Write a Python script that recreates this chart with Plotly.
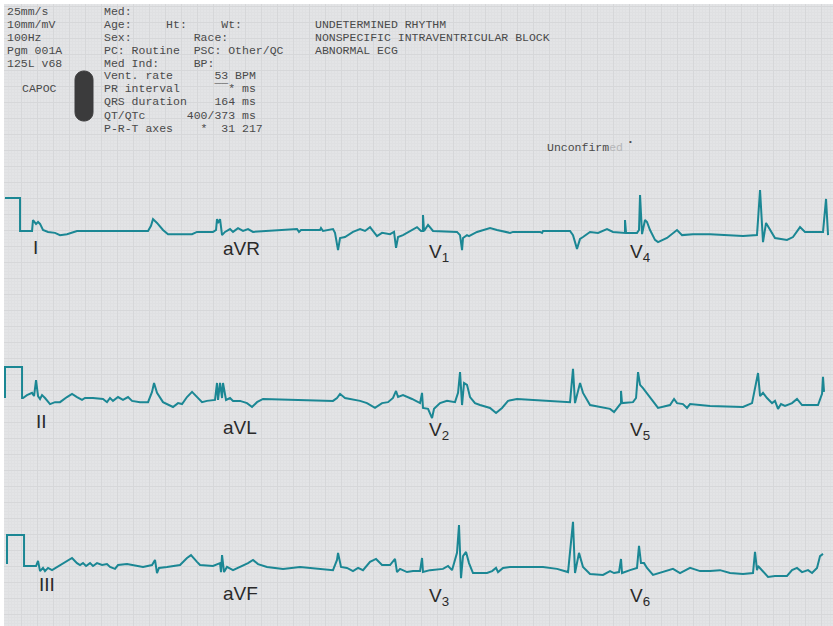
import plotly.graph_objects as go

# ---------------- data: time (s) and amplitude (mV), read from the strip ----------------
ROW1_T = [0, 0.188, 0.188, 0.338, 0.35, 0.388, 0.413, 0.438, 0.475, 0.538, 0.625, 0.688, 0.775, 0.838, 0.9, 1.788, 1.825, 1.85, 1.9, 1.975, 2.038, 2.338, 2.4, 2.6,
          2.638, 2.65, 2.663, 2.688, 2.713, 2.75, 2.813, 2.85, 2.913, 2.975, 3.038, 3.1, 3.275, 3.475, 3.65, 3.675, 3.7, 3.938, 3.95, 3.975, 4.1, 4.125, 4.163, 4.188, 4.25, 4.35, 4.438, 4.5, 4.563, 4.65, 4.713, 4.813, 4.863, 4.888, 4.913, 4.975, 5.088, 5.15,
          5.2, 5.225, 5.225, 5.238, 5.288, 5.35, 5.65, 5.688, 5.713, 5.725, 5.775, 5.8, 5.9, 6.063, 6.15, 6.275, 6.313, 6.35, 6.688, 6.713, 6.725, 7.063, 7.1, 7.15, 7.188, 7.225, 7.313, 7.413, 7.525, 7.6, 7.738,
          7.75, 7.75, 7.763, 7.9, 7.925, 7.938, 7.963, 8.0, 8.025, 8.063, 8.125, 8.163, 8.275, 8.4, 8.463, 8.6, 8.813, 9.225, 9.4, 9.438, 9.475, 9.513, 9.563, 9.625, 9.775, 9.85, 9.938, 10.0, 10.225, 10.263, 10.288]
ROW1_MV = [1.0, 1.0, -0.03, -0.03, 0.31, 0.19, 0.25, 0.19, 0.0, -0.06, -0.09, -0.16, -0.13, -0.09, -0.03, -0.03, 0.13, 0.34, 0.22, 0.0, -0.13, -0.13, -0.06, -0.06,
           0.0, 0.34, 0.22, 0.34, -0.16, -0.06, 0.03, -0.06, 0.06, -0.03, 0.03, -0.06, -0.03, 0.0, 0.03, -0.06, 0.0, 0.0, 0.06, -0.03, 0.03, -0.09, -0.63, -0.25, -0.22, -0.06, 0.03, -0.03, 0.09, -0.19, -0.09, -0.13, -0.06, -0.56, -0.22, -0.16, 0.0, 0.09,
           -0.03, -0.03, 0.47, -0.03, 0.16, -0.03, -0.06, -0.16, -0.63, -0.25, -0.16, -0.19, -0.06, 0.06, 0.0, -0.06, -0.09, -0.06, -0.06, -0.09, -0.03, -0.03, -0.16, -0.59, -0.28, -0.22, -0.06, -0.09, 0.03, -0.06, -0.09,
           -0.09, 0.31, -0.09, -0.09, 0.0, 1.09, -0.13, 0.31, 0.25, 0.0, -0.31, -0.38, -0.25, 0.0, -0.16, -0.13, -0.13, -0.19, -0.16, 1.25, -0.38, 0.22, 0.0, -0.25, -0.31, -0.22, 0.09, -0.06, -0.06, 0.97, -0.16]

ROW2_T = [0, 0, 0.213, 0.213, 0.225, 0.275, 0.338, 0.363, 0.388, 0.413, 0.438, 0.463, 0.5, 0.563, 0.625, 0.688, 0.775, 0.838, 0.9, 0.963, 1.0, 1.1, 1.225, 1.275, 1.313, 1.35, 1.413, 1.475, 1.538, 1.588, 1.688, 1.788, 1.838, 1.863, 1.9, 1.975, 2.1, 2.163, 2.213, 2.275, 2.338, 2.4, 2.463, 2.525, 2.625,
          2.65, 2.663, 2.688, 2.713, 2.725, 2.763, 2.813, 2.85, 2.938, 3.025, 3.088, 3.15, 3.225, 3.688, 4.1, 4.15, 4.188, 4.25, 4.438, 4.525, 4.625, 4.713, 4.788, 4.85, 4.888, 4.913, 4.975, 5.088, 5.188,
          5.213, 5.225, 5.288, 5.338, 5.363, 5.438, 5.525, 5.625, 5.663, 5.688, 5.713, 5.738, 5.775, 5.813, 5.875, 5.938, 6.063, 6.138, 6.213, 6.288, 6.4, 7.063, 7.1, 7.125, 7.188, 7.225, 7.313, 7.563, 7.613, 7.663, 7.7, 7.7, 7.713,
          7.85, 7.888, 7.913, 7.938, 7.975, 8.063, 8.163, 8.313, 8.363, 8.4, 8.475, 8.525, 8.563, 8.813, 9.225, 9.338, 9.413, 9.438, 9.475, 9.525, 9.588, 9.625, 9.663, 9.7, 9.75, 9.838, 9.9, 9.963, 10.163, 10.213, 10.225, 10.238]
ROW2_MV = [0, 0.97, 0.97, 0, 0, 0.09, 0.16, 0.06, 0.56, 0.06, -0.03, 0.09, 0, -0.19, -0.13, -0.13, 0.03, 0.13, 0.03, -0.06, 0, 0, -0.03, -0.13, 0, -0.09, 0.03, -0.06, 0.03, -0.09, -0.13, -0.13, 0.19, 0.47, 0.16, -0.13, -0.28, -0.16, -0.19, 0.03, 0.19, 0.03, -0.13, -0.09, -0.06,
           0.47, -0.06, 0.47, 0, 0.47, -0.06, 0, -0.09, -0.09, -0.16, -0.28, -0.13, -0.03, -0.06, -0.09, 0, 0.13, 0, -0.09, -0.16, -0.31, -0.16, -0.13, 0, 0.22, 0.03, 0.09, -0.03, -0.16,
           0.16, -0.31, -0.34, -0.63, -0.34, -0.16, -0.09, -0.13, 0.16, 0.81, -0.22, 0.47, 0.41, 0.03, -0.16, -0.22, -0.31, -0.47, -0.31, -0.09, -0.03, -0.13, 0.91, -0.16, 0.47, 0.16, -0.22, -0.34, -0.44, -0.28, -0.16, 0.22, -0.16,
           -0.13, 0, 0.81, 0.41, 0.31, 0.03, -0.31, -0.22, -0.03, -0.16, -0.19, -0.31, -0.19, -0.25, -0.28, -0.16, 0.78, 0.06, 0.16, 0, -0.16, -0.09, -0.34, -0.19, -0.25, -0.16, -0.03, -0.22, -0.22, 0.13, 0.66, 0.19]

ROW3_T = [0.025, 0.025, 0.238, 0.238, 0.388, 0.413, 0.438, 0.475, 0.5, 0.538, 0.588, 0.65, 0.725, 0.838, 0.9, 0.938, 0.975, 1.013, 1.063, 1.1, 1.15, 1.213, 1.275, 1.313, 1.375, 1.413, 1.525, 1.725, 1.838, 1.875, 1.9, 1.925, 2.025, 2.188, 2.275, 2.325, 2.4, 2.438, 2.6,
          2.688, 2.7, 2.713, 2.738, 2.775, 2.85, 2.938, 3.038, 3.1, 3.163, 3.275, 3.475, 3.688, 3.813, 4.1, 4.15, 4.163, 4.2, 4.275, 4.35, 4.413, 4.475, 4.563, 4.638, 4.713, 4.813, 4.875, 4.9, 4.938, 5.025, 5.1, 5.188,
          5.213, 5.225, 5.313, 5.475, 5.538, 5.588, 5.65, 5.675, 5.7, 5.725, 5.763, 5.8, 5.85, 6.025, 6.088, 6.138, 6.163, 6.225, 6.313, 6.725, 6.9, 7.038, 7.075, 7.1, 7.125, 7.175, 7.225, 7.313, 7.475, 7.563, 7.613, 7.675, 7.7, 7.713,
          7.813, 7.9, 7.925, 7.95, 7.988, 8.025, 8.1, 8.225, 8.35, 8.438, 8.563, 8.688, 8.813, 8.938, 9.063, 9.225, 9.35, 9.375, 9.4, 9.413, 9.475, 9.538, 9.625, 9.775, 9.838, 9.9, 9.963, 10.038, 10.088, 10.15, 10.188, 10.225]
ROW3_MV = [0.06, 0.97, 0.97, 0, 0, 0.16, -0.16, -0.06, -0.16, -0.06, -0.13, -0.03, 0.09, 0.25, 0.09, 0.03, 0.09, 0, 0.09, 0, 0.09, 0.03, 0.06, -0.03, -0.09, 0.03, 0.06, -0.03, 0.03, 0.19, -0.22, -0.06, -0.03, 0.03, 0.25, 0.34, 0.13, 0.03, 0,
           0.09, -0.19, 0.34, -0.19, -0.03, -0.13, -0.03, 0.09, 0.19, 0.06, -0.03, -0.09, -0.03, -0.06, -0.13, 0.19, 0.41, -0.03, -0.06, -0.16, -0.06, -0.13, 0.13, 0.22, 0.03, 0.03, 0.22, -0.19, -0.09, -0.19, -0.16, -0.16,
           0.25, -0.19, -0.13, -0.09, 0, -0.13, 0.41, 1.28, -0.38, 0.31, 0.44, 0.09, -0.22, -0.22, -0.16, -0.06, -0.19, -0.06, -0.03, -0.03, -0.09, -0.19, 0.72, 1.38, -0.22, 0.41, -0.03, -0.25, -0.28, -0.16, -0.22, -0.19, 0.22, -0.22,
           -0.13, -0.06, 0.63, 0.09, 0.09, -0.06, -0.28, -0.19, -0.09, -0.22, -0.06, -0.16, -0.16, -0.13, -0.22, -0.25, -0.22, 0.44, -0.13, 0, -0.16, -0.34, -0.31, -0.31, -0.13, -0.06, -0.19, -0.13, -0.22, -0.06, 0.31, 0.38]

LEAD_LABELS = [["I", "aVR", "V<sub>1</sub>", "V<sub>4</sub>"],
               ["II", "aVL", "V<sub>2</sub>", "V<sub>5</sub>"],
               ["III", "aVF", "V<sub>3</sub>", "V<sub>6</sub>"]]

HEADER_LEFT = ["25mm/s", "10mm/mV", "100Hz", "Pgm 001A", "125L v68"]
HEADER_MID = ["Med:",
              "Age:     Ht:     Wt:",
              "Sex:         Race:",
              "PC: Routine  PSC: Other/QC",
              "Med Ind:     BP:",
              "Vent. rate      53 BPM",
              "PR interval     \u00af\u00af* ms",
              "QRS duration    164 ms",
              "QT/QTc      400/373 ms",
              "P-R-T axes    *  31 217"]
HEADER_RIGHT = ["UNDETERMINED RHYTHM", "NONSPECIFIC INTRAVENTRICULAR BLOCK", "ABNORMAL ECG"]

for a, b in [(ROW1_T, ROW1_MV), (ROW2_T, ROW2_MV), (ROW3_T, ROW3_MV)]:
    assert len(a) == len(b), (len(a), len(b))

# ---------------- layout geometry ----------------
W, H = 833, 626
ML, MT = 4, 4
PX_PER_S = 80.0      # 25 mm/s
PX_PER_MV = 32.0     # 10 mm/mV
T0_PX = 5
BASELINES = [230, 398, 566]
TEAL = "#1b8794"
BG = "#e3e4e6"
MONO = "Liberation Mono, DejaVu Sans Mono, monospace"
SANS = "Liberation Sans, Arial, sans-serif"


def yrange(base):
    return [(base - H) / PX_PER_MV, (base - MT) / PX_PER_MV]


def pxx(px):
    return (px - ML) / (W - ML)


def pxy(py):
    return (H - py) / (H - MT)


def nb(s):
    return s.replace(" ", "\u00a0")


fig = go.Figure()
for i, (t, v) in enumerate([(ROW1_T, ROW1_MV), (ROW2_T, ROW2_MV), (ROW3_T, ROW3_MV)]):
    fig.add_trace(go.Scatter(x=t, y=v, mode="lines", yaxis="y" if i == 0 else f"y{i+1}",
                             line=dict(color=TEAL, width=2), hoverinfo="skip", showlegend=False))

ann = []
for i, s in enumerate(HEADER_LEFT):
    ann.append(dict(x=pxx(5), y=pxy(11 + 13 * i), text=nb(s)))
ann.append(dict(x=pxx(20), y=pxy(89), text="CAPOC"))
for i, s in enumerate(HEADER_MID):
    ann.append(dict(x=pxx(102), y=pxy(11 + 13 * i), text=nb(s)))
for i, s in enumerate(HEADER_RIGHT):
    ann.append(dict(x=pxx(313), y=pxy(24 + 13 * i), text=nb(s)))
ann.append(dict(x=pxx(545), y=pxy(147), text="Unconfirm<span style='color:#b5b6b8'>ed</span>"))
ann.append(dict(x=pxx(626), y=pxy(141), text="\u2022", size=8))
for a in ann:
    sz = a.pop("size", 11.5)
    a.update(xref="paper", yref="paper", xanchor="left", yanchor="middle", showarrow=False,
             font=dict(family=MONO, size=sz, color="#4a4a4a"))

label_x = [[31, 221, 427, 628], [34, 221, 427, 628], [37, 221, 427, 628]]
label_y = [[248, 249, 253, 253], [421, 427, 431, 431], [584, 593, 597, 597]]
for r in range(3):
    for c in range(4):
        ann.append(dict(x=pxx(label_x[r][c]), y=pxy(label_y[r][c]), text=LEAD_LABELS[r][c],
                        xref="paper", yref="paper", xanchor="left", yanchor="middle", showarrow=False,
                        font=dict(family=SANS, size=19, color="#2a2a2a")))

# dark pill marker
L, R, T, B, rad = 75, 93, 71, 121, 9
cy1, cy2 = T + rad, B - rad
k = rad * 4 / 3
pts = f"M {pxx(L)},{pxy(cy1)} C {pxx(L)},{pxy(cy1 - k)} {pxx(R)},{pxy(cy1 - k)} {pxx(R)},{pxy(cy1)} " \
      f"L {pxx(R)},{pxy(cy2)} C {pxx(R)},{pxy(cy2 + k)} {pxx(L)},{pxy(cy2 + k)} {pxx(L)},{pxy(cy2)} Z"
shapes = [dict(type="path", path=pts, xref="paper", yref="paper", fillcolor="#3b3b3c",
               line=dict(color="#3b3b3c", width=1), layer="above")]

grid = dict(showgrid=True, gridcolor="#d6d7d9", gridwidth=1, zeroline=False, showline=False,
            showticklabels=False, ticks="", fixedrange=True)

fig.update_layout(
    width=W, height=H, margin=dict(l=ML, r=0, t=MT, b=0, pad=0),
    paper_bgcolor="white", plot_bgcolor=BG,
    xaxis=dict(range=[(ML - T0_PX) / PX_PER_S, (W - T0_PX) / PX_PER_S], dtick=0.2, tick0=0,
               minor=dict(dtick=0.04, showgrid=True, gridcolor="#dfe0e2", gridwidth=1), **grid),
    yaxis=dict(range=yrange(BASELINES[0]), dtick=0.5, tick0=0,
               minor=dict(dtick=0.1, showgrid=True, gridcolor="#dfe0e2", gridwidth=1), **grid),
    yaxis2=dict(range=yrange(BASELINES[1]), overlaying="y", visible=False, fixedrange=True),
    yaxis3=dict(range=yrange(BASELINES[2]), overlaying="y", visible=False, fixedrange=True),
    annotations=ann, shapes=shapes, showlegend=False,
)

fig.write_html("out.html", config={"displayModeBar": False},
               post_script="document.body.style.margin='0';document.body.style.overflow='hidden';")
